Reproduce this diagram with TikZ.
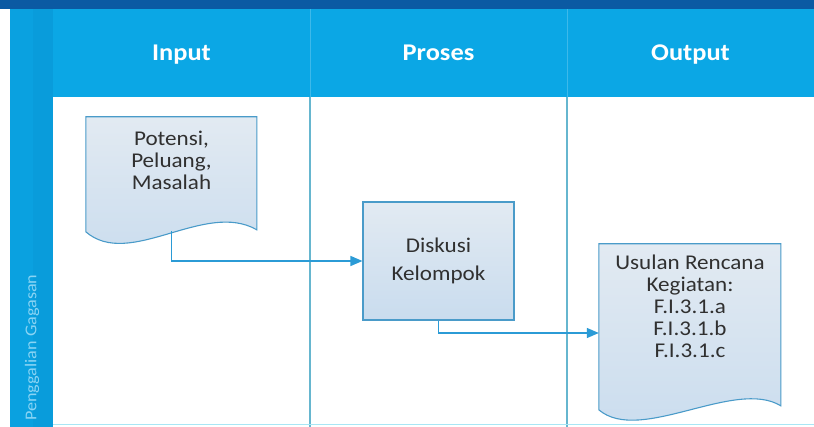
\documentclass[tikz,border=0pt]{standalone}
\usepackage{fontspec}
\setmainfont{Carlito}
\newfontfamily\wide[FakeStretch=1.1]{Carlito}
\usetikzlibrary{calc,arrows.meta}

\definecolor{bandDark}{HTML}{0B5AA3}
\definecolor{bandBlue}{HTML}{0BA7E5}
\definecolor{laneBlue}{HTML}{0AA1E0}
\definecolor{laneEdge}{HTML}{099CDB}
\definecolor{headRule}{HTML}{3DB9EA}
\definecolor{gridLine}{HTML}{66B6CF}
\definecolor{baseLine}{HTML}{A8E6F5}
\definecolor{boxTop}{HTML}{E2EAF2}
\definecolor{boxBot}{HTML}{C9DCEE}
\definecolor{boxLine}{HTML}{4A9BC9}
\definecolor{flowBlue}{HTML}{2B9BD6}
\definecolor{ink}{HTML}{303030}
\definecolor{laneText}{HTML}{8AD4F4}

\pgfdeclarelayer{back}
\pgfdeclarelayer{shapes}
\pgfsetlayers{back,shapes,main}

\tikzset{
  headlabel/.style={font=\wide\fontsize{24}{28}\selectfont\bfseries, text=white, anchor=base},
  bodytext/.style={font=\wide\fontsize{21}{22}\selectfont, text=ink, align=center, inner sep=0pt},
  docnode/.style={bodytext},
  docfill/.style={draw=boxLine, line width=1.1pt, top color=boxTop, bottom color=boxBot},
  procbox/.style={bodytext, draw=boxLine, line width=1.1pt, top color=boxTop, bottom color=boxBot,
    minimum width=151pt, minimum height=118pt, font=\wide\fontsize{21}{27.5}\selectfont},
  flow/.style={draw=flowBlue, line width=1.3pt, -{Triangle[length=12pt,width=10pt]}},
  lanelabel/.style={font=\wide\fontsize{16.5}{18}\selectfont, text=laneText, rotate=90, anchor=west, inner sep=0pt},
}

\begin{document}
\begin{tikzpicture}[x=1pt,y=-1pt]
\useasboundingbox (0,0) rectangle (814,427);

% swimlane frame
\begin{pgfonlayer}{back}
  \fill[white] (0,0) rectangle (814,427);
  \fill[bandDark] (0,0) rectangle (814,9);
  \fill[bandBlue] (10,9) rectangle (814,97);
  \fill[laneBlue] (10,9) rectangle (53,427);
  \fill[laneEdge] (33,9) rectangle (53,427);
  \draw[headRule, line width=0.8pt] (310,9) -- (310,97) (567,9) -- (567,97);
  \draw[gridLine, line width=1.4pt] (310,97) -- (310,427) (567,97) -- (567,427);
  \draw[baseLine, line width=1.6pt] (53,424.5) -- (814,424.5);
\end{pgfonlayer}

% column headers
\node[headlabel] (hin)   at (181.5,61) {Input};
\node[headlabel] (hproc) at (438.5,61) {Proses};
\node[headlabel] (hout)  at (690.5,61) {Output};

% lane title
\node[lanelabel] (lane) at (32,421) {Penggalian Gagasan};

% input document
\node[docnode, minimum width=171pt, minimum height=86pt] (pot) at (171.5,160)
  {Potensi,\\Peluang,\\Masalah};
\begin{pgfonlayer}{shapes}
  \begin{scope}[shift={(pot.north west)}]
    \path[docfill] (0,0) -- (171,0) -- (171,113)
      .. controls (119,83) and (44,153) .. (0,115) -- cycle;
  \end{scope}
\end{pgfonlayer}

% process
\node[procbox] (disk) at (438.5,261) {Diskusi\\Kelompok};

% output document
\node[docnode, minimum width=182pt, minimum height=124pt] (out) at (690,306)
  {Usulan Rencana\\Kegiatan:\\F.I.3.1.a\\F.I.3.1.b\\F.I.3.1.c};
\begin{pgfonlayer}{shapes}
  \begin{scope}[shift={(out.north west)}]
    \path[docfill] (0,0) -- (182,0) -- (182,162)
      .. controls (136,134) and (41,201) .. (0,166) -- cycle;
  \end{scope}
\end{pgfonlayer}

% flow
\draw[flow] ([yshift=-114pt]pot.north) |- (disk.west);
\draw[flow] (disk.south) |- ([yshift=-27pt]out.west);
\end{tikzpicture}
\end{document}
